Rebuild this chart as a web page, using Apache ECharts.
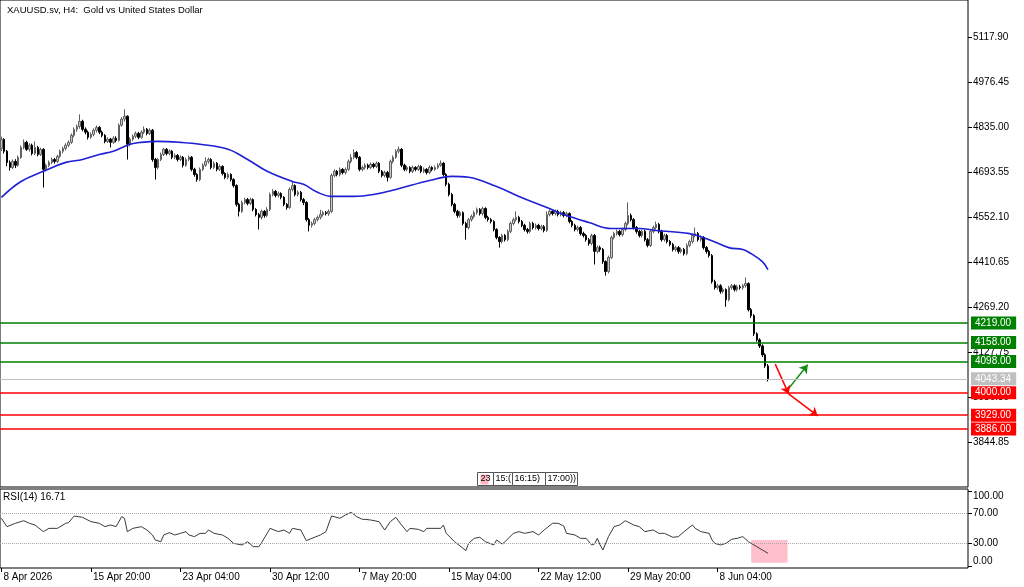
<!DOCTYPE html>
<html>
<head>
<meta charset="utf-8">
<title>XAUUSD.sv H4</title>
<script src="https://cdn.jsdelivr.net/npm/echarts@6.0.0/dist/echarts.min.js"></script>
<style>
  html, body { margin: 0; padding: 0; background: #fff; }
  #chart { width: 1024px; height: 587px; }
</style>
</head>
<body>
<div id="chart"></div>
<script>
// time axis: one label every 32 H4 bars
const timeLabels = ['8 Apr 2026', '15 Apr 20:00', '23 Apr 04:00', '30 Apr 12:00', '7 May 20:00',
  '15 May 04:00', '22 May 12:00', '29 May 20:00', '8 Jun 04:00']
const labelStep = 32
const totalSlots = 346 // bar slots that fit in the window

const priceTicks = [3844.85, 3986.30, 4127.75, 4269.20, 4410.65, 4552.10, 4693.55, 4835.00, 4976.45, 5117.90]
const rsiTicks = [0, 30, 70, 100]

// H4 candles, [open, close, low, high]
const candles = [
  [4768,4796,4760,4805],[4796,4759,4752,4800],[4759,4724,4712,4763],[4724,4708,4698,4730],[4708,4727,4703,4733],
  [4727,4715,4706,4734],[4715,4740,4710,4746],[4740,4771,4735,4777],[4771,4787,4765,4796],[4787,4765,4760,4792],
  [4765,4778,4758,4784],[4778,4752,4746,4783],[4752,4771,4747,4790],[4771,4749,4743,4776],[4749,4765,4744,4770],
  [4765,4702,4645,4768],[4702,4715,4696,4720],[4715,4724,4709,4730],[4724,4733,4718,4739],[4733,4727,4720,4738],
  [4727,4743,4722,4748],[4743,4759,4738,4764],[4759,4768,4752,4773],[4768,4778,4762,4784],[4778,4787,4772,4793],
  [4787,4809,4782,4815],[4809,4828,4803,4834],[4828,4837,4820,4843],[4837,4853,4830,4875],[4853,4828,4822,4858],
  [4828,4819,4812,4834],[4819,4803,4796,4824],[4803,4812,4798,4818],[4812,4825,4806,4831],[4825,4834,4818,4840],
  [4834,4819,4813,4838],[4819,4809,4803,4824],[4809,4790,4784,4813],[4790,4797,4785,4803],[4797,4787,4771,4801],
  [4787,4800,4782,4806],[4800,4793,4787,4806],[4793,4841,4789,4846],[4841,4860,4836,4866],[4860,4869,4852,4891],
  [4869,4781,4733,4872],[4781,4797,4774,4803],[4797,4806,4791,4812],[4806,4815,4800,4821],[4815,4803,4797,4820],
  [4803,4819,4798,4825],[4819,4828,4813,4837],[4828,4815,4809,4832],[4815,4825,4810,4831],[4825,4733,4726,4829],
  [4733,4708,4670,4738],[4708,4733,4702,4738],[4733,4749,4728,4755],[4749,4765,4744,4770],[4765,4752,4746,4769],
  [4752,4759,4746,4765],[4759,4740,4734,4763],[4740,4746,4734,4752],[4746,4733,4727,4750],[4733,4740,4728,4746],
  [4740,4715,4708,4744],[4715,4733,4710,4739],[4733,4740,4728,4746],[4740,4702,4696,4744],[4702,4686,4679,4707],
  [4686,4670,4663,4690],[4670,4702,4665,4708],[4702,4715,4697,4721],[4715,4727,4710,4740],[4727,4733,4720,4739],
  [4733,4708,4702,4737],[4708,4721,4703,4727],[4721,4702,4696,4725],[4702,4711,4697,4717],[4711,4689,4683,4715],
  [4689,4677,4671,4693],[4677,4686,4671,4692],[4686,4670,4664,4690],[4670,4651,4645,4674],[4651,4592,4585,4655],
  [4592,4570,4554,4597],[4570,4598,4565,4604],[4598,4607,4592,4613],[4607,4595,4589,4612],[4595,4607,4590,4613],
  [4607,4576,4570,4611],[4576,4560,4554,4580],[4560,4551,4513,4565],[4551,4570,4545,4576],[4570,4557,4550,4574],
  [4557,4576,4552,4583],[4576,4623,4571,4629],[4623,4633,4617,4640],[4633,4620,4614,4637],[4620,4626,4614,4632],
  [4626,4614,4608,4630],[4614,4592,4586,4618],[4592,4582,4575,4596],[4582,4639,4578,4645],[4639,4651,4633,4664],
  [4651,4623,4617,4655],[4623,4630,4617,4636],[4630,4607,4601,4634],[4607,4598,4590,4612],[4598,4544,4538,4602],
  [4544,4526,4507,4549],[4526,4532,4519,4538],[4532,4544,4526,4550],[4544,4551,4538,4557],[4551,4560,4545,4575],
  [4560,4566,4554,4572],[4566,4563,4557,4571],[4563,4570,4556,4576],[4570,4683,4565,4689],[4683,4696,4677,4702],
  [4696,4686,4680,4700],[4686,4702,4680,4708],[4702,4692,4686,4706],[4692,4702,4686,4708],[4702,4727,4697,4733],
  [4727,4740,4721,4750],[4740,4755,4734,4765],[4755,4740,4734,4760],[4740,4702,4696,4744],[4702,4708,4696,4714],
  [4708,4715,4702,4721],[4715,4708,4702,4720],[4708,4718,4703,4724],[4718,4711,4705,4723],[4711,4721,4706,4727],
  [4721,4696,4690,4725],[4696,4683,4677,4700],[4683,4692,4677,4698],[4692,4677,4664,4697],[4677,4727,4672,4733],
  [4727,4740,4721,4746],[4740,4759,4735,4765],[4759,4765,4752,4774],[4765,4715,4709,4769],[4715,4702,4696,4720],
  [4702,4708,4696,4714],[4708,4696,4690,4712],[4696,4708,4690,4714],[4708,4702,4696,4712],[4702,4711,4697,4717],
  [4711,4696,4690,4715],[4696,4702,4690,4708],[4702,4692,4686,4706],[4692,4708,4687,4714],[4708,4702,4696,4712],
  [4702,4708,4697,4714],[4708,4715,4703,4721],[4715,4721,4710,4730],[4721,4686,4680,4725],[4686,4655,4649,4690],
  [4655,4623,4617,4660],[4623,4592,4586,4628],[4592,4570,4564,4597],[4570,4557,4550,4575],[4557,4566,4551,4572],
  [4566,4532,4526,4570],[4532,4519,4481,4537],[4519,4544,4513,4550],[4544,4554,4538,4560],[4554,4566,4548,4572],
  [4566,4576,4560,4582],[4576,4563,4557,4580],[4563,4579,4557,4585],[4579,4551,4545,4583],[4551,4544,4538,4556],
  [4544,4538,4532,4549],[4538,4513,4507,4542],[4513,4488,4482,4517],[4488,4475,4456,4492],[4475,4494,4469,4500],
  [4494,4481,4475,4499],[4481,4507,4476,4513],[4507,4532,4501,4538],[4532,4544,4526,4550],[4544,4551,4538,4570],
  [4551,4538,4532,4556],[4538,4526,4520,4543],[4526,4513,4507,4531],[4513,4507,4500,4518],[4507,4532,4501,4538],
  [4532,4519,4513,4537],[4519,4526,4513,4532],[4526,4516,4510,4531],[4516,4522,4510,4528],[4522,4510,4504,4527],
  [4510,4560,4505,4570],[4560,4570,4554,4576],[4570,4563,4557,4575],[4563,4570,4557,4576],[4570,4560,4554,4575],
  [4560,4566,4554,4572],[4566,4557,4551,4571],[4557,4563,4551,4569],[4563,4538,4532,4567],[4538,4526,4520,4543],
  [4526,4513,4507,4531],[4513,4519,4507,4525],[4519,4500,4494,4524],[4500,4494,4488,4506],[4494,4481,4475,4499],
  [4481,4469,4462,4486],[4469,4494,4463,4500],[4494,4444,4403,4499],[4444,4456,4438,4462],[4456,4450,4443,4462],
  [4450,4412,4405,4455],[4412,4381,4368,4416],[4381,4425,4375,4431],[4425,4488,4420,4494],[4488,4500,4482,4506],
  [4500,4507,4494,4513],[4507,4497,4491,4512],[4497,4513,4491,4519],[4513,4532,4507,4538],[4532,4557,4526,4598],
  [4557,4544,4538,4563],[4544,4519,4513,4549],[4519,4507,4500,4524],[4507,4494,4488,4512],[4494,4507,4488,4513],
  [4507,4481,4475,4512],[4481,4463,4457,4486],[4463,4507,4458,4513],[4507,4519,4501,4525],[4519,4529,4513,4538],
  [4529,4507,4501,4534],[4507,4481,4475,4512],[4481,4494,4475,4500],[4494,4475,4469,4499],[4475,4466,4460,4480],
  [4466,4450,4444,4471],[4450,4456,4444,4462],[4456,4444,4437,4461],[4444,4450,4438,4456],[4450,4437,4431,4455],
  [4437,4463,4432,4469],[4463,4475,4457,4481],[4475,4494,4469,4500],[4494,4500,4488,4519],[4500,4481,4475,4505],
  [4481,4488,4475,4494],[4488,4456,4450,4492],[4456,4444,4437,4461],[4444,4431,4425,4449],[4431,4349,4343,4436],
  [4349,4330,4324,4355],[4330,4336,4324,4342],[4336,4318,4311,4341],[4318,4324,4312,4330],[4324,4292,4270,4328],
  [4292,4330,4287,4336],[4330,4336,4324,4342],[4336,4324,4318,4341],[4324,4333,4318,4339],[4333,4330,4324,4339],
  [4330,4336,4324,4342],[4336,4343,4330,4362],[4343,4261,4255,4347],[4261,4242,4235,4266],[4242,4185,4178,4247],
  [4185,4166,4160,4190],[4166,4147,4140,4171],[4147,4119,4112,4152],[4119,4084,4078,4124],[4084,4043.34,4035,4090]
]

// moving average, [bar, price]
const maPoints = [
  [0,4614],[7,4664],[15,4696],[23,4724],[29,4733],[35,4749],[40,4759],[46,4781],[50,4787],[56,4790],
  [64,4787],[71,4781],[81,4765],[88,4733],[95,4696],[104,4664],[108,4655],[113,4630],[118,4617],[126,4617],
  [133,4623],[141,4639],[153,4667],[161,4680],[167,4677],[177,4648],[185,4617],[195,4582],[201,4560],[210,4535],
  [218,4516],[228,4516],[234,4510],[246,4500],[253,4481],[260,4456],[265,4450],[268,4437],[272,4412],[274,4387]
]

// RSI(14), [bar, value]
const rsiPoints = [
  [0,63.7],[2,52.5],[5,57.0],[8,60.5],[10,57.0],[12,54.7],[15,45.8],[17,50.2],[20,50.2],[23,57.0],
  [24,57.8],[26,66.8],[29,65.0],[32,59.2],[35,57.0],[37,52.5],[39,54.7],[41,52.5],[43,65.9],[44,63.7],
  [45,45.8],[47,50.2],[50,52.5],[52,48.0],[54,41.3],[55,34.6],[57,32.3],[58,41.3],[60,44.4],[62,41.3],
  [64,43.5],[66,45.8],[67,41.3],[69,39.1],[71,43.5],[73,43.5],[74,48.0],[76,43.5],[79,41.3],[81,36.8],
  [83,30.1],[86,27.9],[88,32.3],[90,25.6],[92,25.6],[93,31.0],[95,43.5],[96,50.2],[99,45.8],[101,48.0],
  [103,43.5],[104,50.2],[107,48.0],[109,33.7],[111,36.8],[114,41.3],[116,45.8],[118,66.8],[121,63.7],[123,68.1],
  [125,71.7],[127,65.9],[129,62.3],[130,62.3],[132,61.4],[135,59.2],[137,48.0],[139,59.2],[141,65.0],[143,54.7],
  [145,45.8],[146,50.2],[149,48.9],[151,45.8],[152,50.2],[155,50.2],[157,50.2],[158,54.7],[159,43.5],[162,32.3],
  [165,23.4],[166,20.3],[167,30.1],[169,36.8],[171,38.2],[173,32.3],[176,27.9],[177,34.6],[179,29.2],[180,32.3],
  [183,43.5],[185,45.8],[187,43.5],[190,45.8],[192,41.3],[194,48.0],[197,57.0],[199,57.0],[201,53.4],[202,43.5],
  [205,41.3],[207,36.8],[209,36.8],[211,27.9],[212,29.2],[213,36.8],[214,27.9],[215,21.2],[217,39.1],[219,52.5],
  [221,54.7],[223,60.5],[226,54.7],[228,52.5],[230,45.8],[233,48.0],[235,43.5],[237,43.5],[240,38.2],[242,39.1],
  [244,45.8],[247,54.7],[248,50.2],[250,45.8],[253,43.5],[254,34.6],[255,30.1],[257,27.9],[259,30.1],[261,35.5],
  [263,36.8],[265,39.1],[267,32.3],[268,30.1],[270,25.6],[272,21.2],[274,16.71]
]
const rsiLast = 16.71

// horizontal levels
const resistance = [4219.00, 4158.00, 4098.00]
const lastPrice = 4043.34
const support = [4000.00, 3929.00, 3886.00]

// hand drawn arrows, [bar, price] start -> end
const upArrows = [[[281.0, 4008.7], [288.2, 4087.5]]]
const downArrows = [[[276.6, 4089.7], [281.4, 3996.1]], [[281.4, 3996.1], [291.8, 3926.8]]]

// oversold box on the RSI pane, [bar, value] corners
const rsiZone = [[268, 34.6], [281, 4.2]]

const font = '"Liberation Sans", Arial, sans-serif'
const slots = Array.from({ length: totalSlots }, (_, i) => i)
const labelBars = timeLabels.map((t, i) => i * labelStep)

// level line with a coloured price tag on the axis
const levelLine = (price, color, textColor, width) => ({
  yAxis: price,
  lineStyle: { color: color, width: width, type: 'solid' },
  label: {
    show: true,
    position: 'end',
    distance: 3,
    formatter: () => price.toFixed(2),
    color: textColor,
    backgroundColor: color,
    padding: [2, 5, 1, 4],
    fontSize: 10,
    fontFamily: font
  }
})

const chart = echarts.init(document.getElementById('chart'))

const option = {
  animation: false,
  backgroundColor: '#fff',
  title: {
    text: 'XAUUSD.sv, H4:  Gold vs United States Dollar',
    left: 2,
    top: 0,
    textStyle: { fontSize: 9.5, fontWeight: 'normal', color: '#000', fontFamily: font }
  },
  grid: [
    { left: 0, top: 0, width: 968, height: 487, show: true, borderColor: '#000', borderWidth: 1 },
    { left: 0, top: 489, width: 968, height: 79, show: true, borderColor: '#000', borderWidth: 1 }
  ],
  xAxis: [
    { type: 'category', gridIndex: 0, data: slots, show: false },
    { type: 'value', gridIndex: 0, min: -0.5, max: totalSlots - 0.5, show: false },
    {
      type: 'value', gridIndex: 1, min: -0.5, max: totalSlots - 0.5,
      axisLine: { show: false, onZero: false },
      splitLine: { show: false },
      axisTick: { show: true, customValues: labelBars, length: 4, lineStyle: { color: '#000' } },
      axisLabel: {
        customValues: labelBars,
        formatter: v => timeLabels[Math.round(v / labelStep)],
        align: 'left',
        margin: 4,
        padding: [0, 0, 0, 2],
        color: '#000',
        fontSize: 10,
        fontFamily: font
      }
    }
  ],
  yAxis: [
    {
      type: 'value', gridIndex: 0, position: 'right',
      min: 3703.40, max: 5234.5,
      splitLine: { show: false },
      axisLine: { show: false, onZero: false },
      axisTick: { show: true, customValues: priceTicks, length: 4, lineStyle: { color: '#000' } },
      axisLabel: {
        customValues: priceTicks,
        formatter: v => v.toFixed(2),
        margin: 5,
        color: '#000',
        fontSize: 10,
        fontFamily: font
      }
    },
    {
      type: 'value', gridIndex: 1, position: 'right',
      min: -3, max: 103,
      splitLine: { show: false },
      axisLine: { show: false, onZero: false },
      axisTick: { show: true, customValues: rsiTicks, length: 4, lineStyle: { color: '#000' } },
      axisLabel: {
        customValues: rsiTicks,
        formatter: v => v.toFixed(2),
        margin: 5,
        verticalAlignMaxLabel: 'top',
        verticalAlignMinLabel: 'bottom',
        color: '#000',
        fontSize: 10,
        fontFamily: font
      }
    }
  ],
  graphic: [
    {
      type: 'text', left: 3, top: 492,
      style: { text: 'RSI(14) ' + rsiLast.toFixed(2), fill: '#000', font: '10px ' + font }
    },
    // little time scroller at the bottom of the price pane
    {
      type: 'group', left: 477, top: 472,
      children: [
        { type: 'rect', shape: { x: 0, y: 0, width: 16, height: 13 }, style: { fill: '#fff', stroke: '#555' } },
        { type: 'rect', shape: { x: 3, y: 2, width: 8, height: 10 }, style: { fill: '#ffb6c1' } },
        { type: 'text', x: 3, y: 2, style: { text: '23', fill: '#000', font: '9px ' + font } },
        { type: 'rect', shape: { x: 16, y: 0, width: 19, height: 13 }, style: { fill: '#fff', stroke: '#555' } },
        { type: 'text', x: 18, y: 2, style: { text: '15:(', fill: '#000', font: '9px ' + font } },
        { type: 'rect', shape: { x: 35, y: 0, width: 33, height: 13 }, style: { fill: '#fff', stroke: '#555' } },
        { type: 'text', x: 37, y: 2, style: { text: '16:15)', fill: '#000', font: '9px ' + font } },
        { type: 'rect', shape: { x: 68, y: 0, width: 32, height: 13 }, style: { fill: '#fff', stroke: '#555' } },
        { type: 'text', x: 70, y: 2, style: { text: '17:00))', fill: '#000', font: '9px ' + font } }
      ]
    }
  ],
  series: [
    {
      type: 'candlestick',
      xAxisIndex: 0,
      yAxisIndex: 0,
      data: candles,
      barWidth: 2,
      itemStyle: {
        color: '#c8c8c8',
        color0: '#000',
        borderColor: '#606060',
        borderColor0: '#000',
        borderWidth: 1
      },
      markLine: {
        silent: true,
        symbol: ['none', 'none'],
        data: [
          ...resistance.map(p => levelLine(p, '#008000', '#fff', 1.5)),
          levelLine(lastPrice, '#c0c0c0', '#fff', 1),
          ...support.map(p => levelLine(p, '#ff0000', '#fff', 1.5))
        ]
      }
    },
    {
      type: 'line',
      xAxisIndex: 1,
      yAxisIndex: 0,
      data: maPoints,
      smooth: 0.4,
      showSymbol: false,
      lineStyle: { color: '#1f1fd6', width: 1.6 }
    },
    {
      type: 'lines',
      coordinateSystem: 'cartesian2d',
      xAxisIndex: 1,
      yAxisIndex: 0,
      symbol: ['none', 'arrow'],
      symbolSize: 8,
      lineStyle: { color: '#138a13', width: 1.5, opacity: 1 },
      data: upArrows.map(c => ({ coords: c }))
    },
    {
      type: 'lines',
      coordinateSystem: 'cartesian2d',
      xAxisIndex: 1,
      yAxisIndex: 0,
      symbol: ['none', 'arrow'],
      symbolSize: 8,
      lineStyle: { color: '#ff0000', width: 1.5, opacity: 1 },
      data: downArrows.map(c => ({ coords: c }))
    },
    {
      type: 'line',
      xAxisIndex: 2,
      yAxisIndex: 1,
      data: rsiPoints,
      showSymbol: false,
      lineStyle: { color: '#3a3a3a', width: 1 },
      markLine: {
        silent: true,
        symbol: ['none', 'none'],
        label: { show: false },
        lineStyle: { color: '#a8a8a8', type: 'dotted', width: 1 },
        data: [{ yAxis: 70 }, { yAxis: 30 }]
      },
      markArea: {
        silent: true,
        itemStyle: { color: '#ffc0cb' },
        data: [[{ coord: rsiZone[0] }, { coord: rsiZone[1] }]]
      }
    }
  ]
}

chart.setOption(option)
</script>
</body>
</html>
